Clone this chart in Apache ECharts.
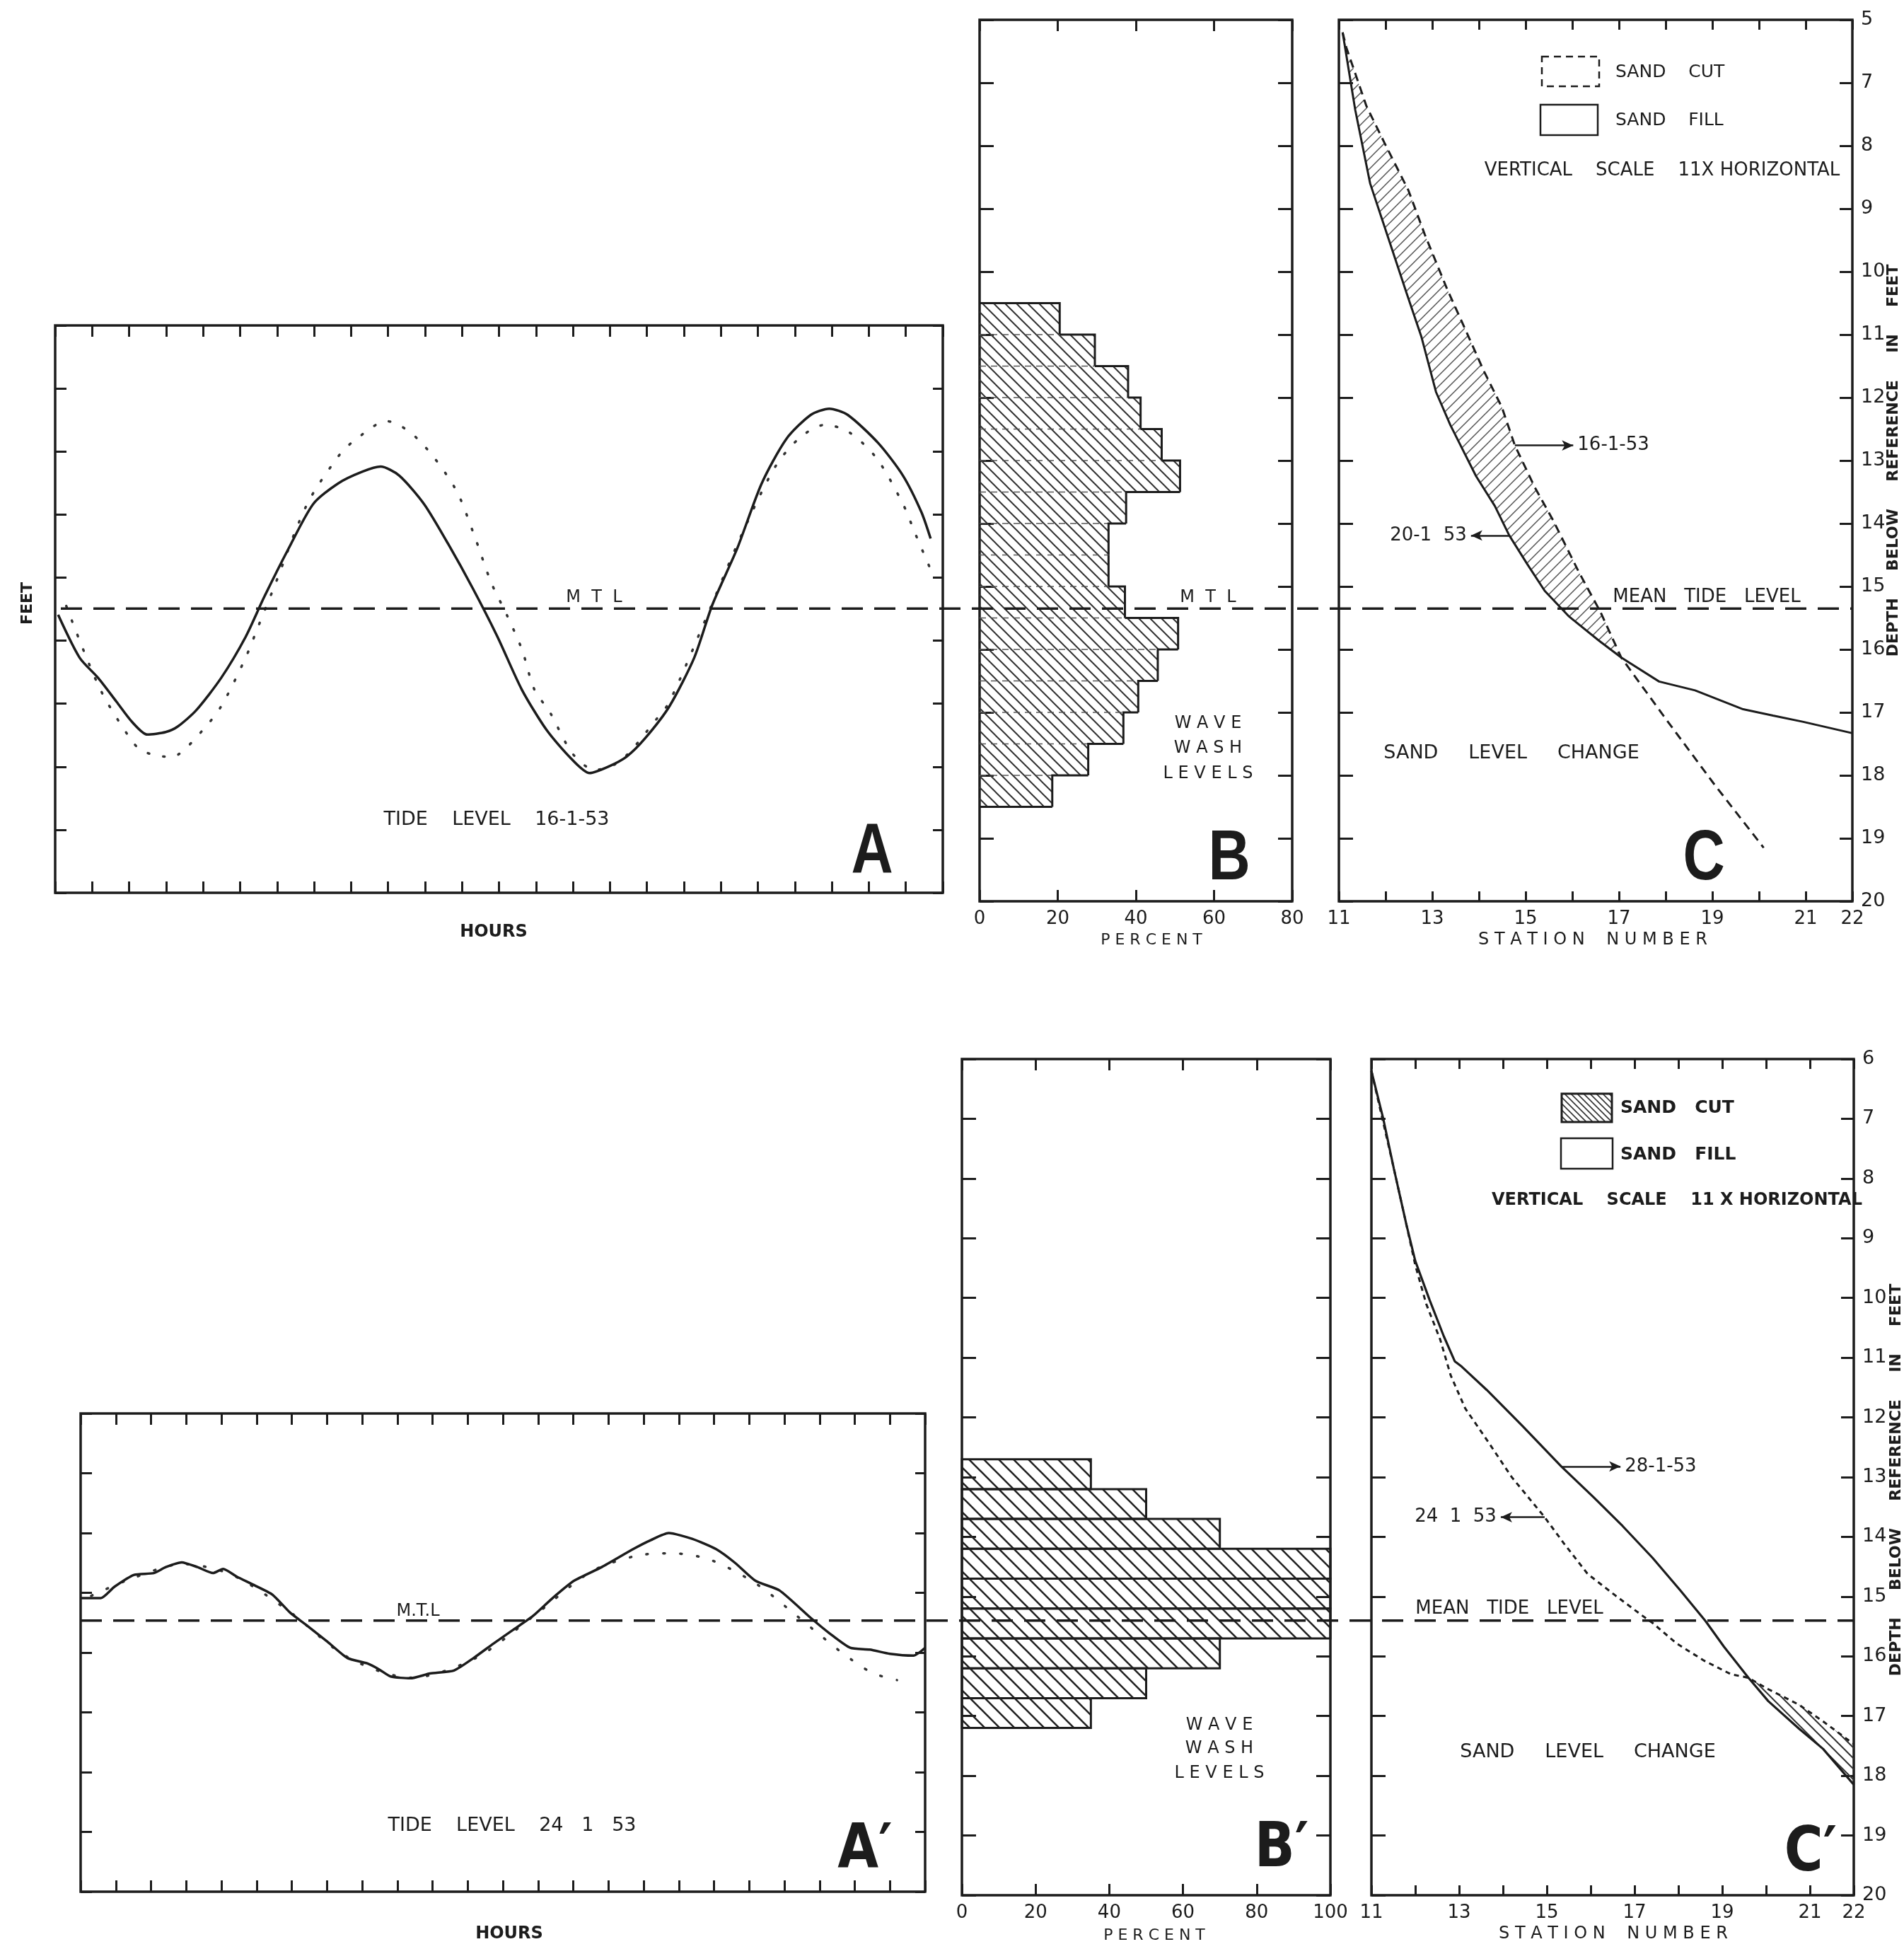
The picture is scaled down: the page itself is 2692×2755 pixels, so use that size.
<!DOCTYPE html>
<html>
<head>
<meta charset="utf-8">
<script src="https://cdn.jsdelivr.net/npm/echarts@6/dist/echarts.min.js"></script>
<style>
  html, body { margin: 0; padding: 0; background: #fff; }
  #chart { width: 2692px; height: 2755px; }
</style>
</head>
<body>
<div id="chart"></div>
<script>
// ---------- data ----------
// A / A' : tide curves, [hour, depth below reference in feet]
const tideObs16 = [[0.08,15.59],[0.66,16.27],[1.16,16.59],[1.66,16.97],[2.08,17.29],[2.49,17.49],[2.99,17.45],[3.32,17.36],[3.82,17.10],[4.49,16.59],[5.15,15.94],[5.65,15.31],[6.31,14.54],[6.98,13.83],[7.64,13.51],[8.31,13.32],[8.80,13.24],[9.30,13.38],[9.97,13.83],[10.63,14.47],[11.30,15.18],[11.96,15.94],[12.62,16.78],[13.29,17.42],[13.95,17.87],[14.45,18.10],[14.95,18.00],[15.45,17.84],[15.95,17.55],[16.61,17.04],[17.28,16.27],[17.77,15.43],[18.44,14.54],[19.10,13.51],[19.77,12.80],[20.43,12.42],[20.93,12.32],[21.43,12.42],[22.26,12.87],[22.92,13.38],[23.42,13.96],[23.67,14.38]];
const tidePred16 = [[0.3,15.45],[1.2,16.75],[1.99,17.52],[2.33,17.74],[2.99,17.84],[3.32,17.81],[3.99,17.42],[4.49,17.04],[5.15,16.27],[5.48,15.79],[5.90,15.18],[6.8,13.85],[7.64,13.09],[8.06,12.84],[8.97,12.52],[9.80,12.80],[10.80,13.57],[11.30,14.28],[11.79,15.08],[12.21,15.59],[12.62,16.14],[12.96,16.78],[13.37,17.13],[14.0,17.80],[14.6,18.05],[15.3,17.90],[16.28,17.23],[16.61,16.97],[17.61,15.63],[18.5,14.40],[19.44,13.27],[20.10,12.80],[20.8,12.58],[21.43,12.68],[22.2,13.10],[22.92,13.83],[23.26,14.31],[23.75,14.98]];
const tideObs24 = [[0.0,15.09],[0.57,15.09],[0.96,14.90],[1.52,14.70],[2.08,14.67],[2.42,14.57],[2.87,14.49],[3.32,14.57],[3.76,14.67],[4.05,14.60],[4.44,14.73],[4.89,14.86],[5.45,15.03],[5.95,15.33],[6.46,15.56],[7.02,15.82],[7.58,16.09],[8.14,16.18],[8.48,16.28],[8.81,16.40],[9.37,16.43],[9.93,16.35],[10.61,16.30],[11.17,16.09],[11.73,15.85],[12.29,15.62],[12.85,15.39],[13.41,15.09],[14.02,14.80],[14.81,14.57],[15.70,14.27],[16.20,14.12],[16.71,14.00],[17.39,14.10],[18.06,14.27],[18.6,14.50],[19.18,14.80],[19.86,14.96],[20.75,15.42],[21.31,15.69],[21.87,15.92],[22.43,15.95],[23.00,16.02],[23.67,16.05],[24.0,15.92]];
const tidePred24 = [[0.3,15.05],[1.5,14.75],[2.9,14.52],[4.3,14.70],[5.9,15.30],[7.6,16.08],[9.4,16.42],[11.2,16.10],[12.85,15.40],[14.5,14.65],[15.8,14.38],[16.8,14.34],[17.9,14.45],[19.2,14.85],[20.3,15.36],[21.0,15.70],[21.7,16.03],[22.5,16.34],[23.2,16.46]];

// B / B' : wave wash levels, bin top depth (0.5 ft bins) and percent
const washBinTop16 = [10.5,11.0,11.5,12.0,12.5,13.0,13.5,14.0,14.5,15.0,15.5,16.0,16.5,17.0,17.5,18.0];
const washPct16 = [20.5,29.5,38,41.2,46.6,51.3,37.5,33,33,37.2,50.8,45.6,40.6,36.8,27.8,18.6];
const washBinTop24 = [12.7,13.2,13.7,14.2,14.7,15.2,15.7,16.2,16.7];
const washPct24 = [35,50,70,100,100,100,70,50,35];
const binH = 0.5;

// C / C' : beach profiles, [station number, depth below reference]
const profile16 = [[11.08,6.2],[11.16,6.44],[11.59,7.37],[11.98,7.96],[12.49,8.71],[12.84,9.41],[13.32,10.28],[13.71,10.92],[14.10,11.57],[14.49,12.15],[14.77,12.76],[15.20,13.43],[15.59,13.95],[16.14,14.77],[16.6,15.40],[17.05,16.13],[18.0,17.10],[19.05,18.15],[20.1,19.15]];
const profile20 = [[11.08,6.2],[11.35,7.43],[11.67,8.60],[12.06,9.47],[12.45,10.34],[12.77,11.04],[13.08,11.91],[13.39,12.44],[13.94,13.25],[14.34,13.72],[14.65,14.19],[15.04,14.65],[15.41,15.07],[15.92,15.47],[16.57,15.86],[17.05,16.13],[17.86,16.51],[18.63,16.65],[19.66,16.95],[20.30,17.05],[20.95,17.15],[22.0,17.33]];
const profile24 = [[11.0,6.2],[11.51,7.83],[11.8,8.78],[12.0,9.45],[12.25,10.10],[12.57,10.70],[12.81,11.30],[13.14,11.85],[13.7,12.45],[14.2,13.00],[14.95,13.67],[15.4,14.12],[15.93,14.62],[16.56,14.98],[17.18,15.32],[17.41,15.44],[17.95,15.78],[18.58,16.07],[19.2,16.30],[19.6,16.36],[20.05,16.55],[20.75,16.81],[21.3,17.09],[22.0,17.47]];
const profile28 = [[11.0,6.2],[11.27,7.0],[11.51,7.83],[11.8,8.78],[12.0,9.38],[12.33,10.04],[12.65,10.64],[12.9,11.06],[13.06,11.15],[13.63,11.54],[14.44,12.14],[15.33,12.82],[16.07,13.34],[16.73,13.82],[17.41,14.35],[18.05,14.90],[18.62,15.41],[19.04,15.84],[19.6,16.36],[20.05,16.75],[20.75,17.21],[21.3,17.55],[22.0,18.15]];
const meet16 = 17.05;   // where the two top profiles join
const meet24 = 19.6;    // where the two bottom profiles cross

// arrows to profile names: [from station, to station, depth]
const arrow16 = [14.77, 16.02, 12.76];
const arrow20 = [14.65, 13.83, 14.19];
const arrow28 = [15.33, 16.68, 12.82];
const arrow24 = [14.95, 13.95, 13.67];

const mtlTop = 15.35;
const mtlBottom = 15.4;

const depthLabelsTop = ['5','7','8','9','10','11','12','13','14','15','16','17','18','19','20'];
const depthLabelsBottom = ['6','7','8','9','10','11','12','13','14','15','16','17','18','19','20'];
const stationLabels = [11,13,15,17,19,21,22];

// ---------- helpers ----------
const ink = '#1c1c1c';
const FONT = 'DejaVu Sans';

function hatch(size, lw, color, dir) {
  const c = document.createElement('canvas');
  c.width = c.height = size;
  const g = c.getContext('2d');
  g.strokeStyle = color;
  g.lineWidth = lw;
  g.beginPath();
  for (let k = -1; k <= 1; k++) {
    if (dir === 'back') {
      g.moveTo(k * size - 1, -1);
      g.lineTo(k * size + size + 1, size + 1);
    } else {
      g.moveTo(k * size - 1, size + 1);
      g.lineTo(k * size + size + 1, -1);
    }
  }
  g.stroke();
  return {image: c, repeat: 'repeat'};
}

const hatchB16 = hatch(16, 2, '#333', 'back');
const hatchB24 = hatch(21, 2.6, '#222', 'back');
const hatchC16 = hatch(15, 1.5, '#555', 'fwd');
const hatchC24 = hatch(15, 2, '#333', 'back');
const hatchKey = hatch(9, 1.6, '#333', 'back');

const tickStyle = (len) => ({show: true, inside: true, length: len, lineStyle: {color: ink, width: 3}});
const labelStyle = {color: ink, fontFamily: FONT, fontSize: 26};

function axis(gridIndex, position, min, max, interval, extra) {
  return Object.assign({
    type: 'value', gridIndex, position, min, max, interval,
    axisLine: {show: false, onZero: false},
    splitLine: {show: false},
    axisTick: tickStyle(16),
    axisLabel: {show: false}
  }, extra || {});
}

const grids = [
  {left: 78, top: 460, width: 1255, height: 802},    // A
  {left: 1385, top: 28, width: 442, height: 1246},   // B
  {left: 1893, top: 28, width: 726, height: 1246},   // C
  {left: 114, top: 1998, width: 1194, height: 676},  // A'
  {left: 1360, top: 1497, width: 521, height: 1182}, // B'
  {left: 1939, top: 1497, width: 682, height: 1182}  // C'
].map(g => Object.assign(g, {show: true, borderColor: ink, borderWidth: 3.5, backgroundColor: 'transparent'}));

const stationLabel = {show: true, margin: 12, ...labelStyle,
  showMinLabel: true, showMaxLabel: true,
  formatter: v => stationLabels.includes(Math.round(v)) ? String(Math.round(v)) : ''};

const xAxes = [
  axis(0, 'bottom', 0, 24, 1), axis(0, 'top', 0, 24, 1),
  axis(1, 'bottom', 0, 80, 20, {axisLabel: {show: true, margin: 12, ...labelStyle, showMinLabel: true, showMaxLabel: true}}),
  axis(1, 'top', 0, 80, 20),
  axis(2, 'bottom', 11, 22, 1, {axisLabel: stationLabel, axisTick: tickStyle(14)}),
  axis(2, 'top', 11, 22, 1, {axisTick: tickStyle(14)}),
  axis(3, 'bottom', 0, 24, 1), axis(3, 'top', 0, 24, 1),
  axis(4, 'bottom', 0, 100, 20, {axisLabel: {show: true, margin: 12, ...labelStyle, showMinLabel: true, showMaxLabel: true}}),
  axis(4, 'top', 0, 100, 20),
  axis(5, 'bottom', 11, 22, 1, {axisLabel: stationLabel, axisTick: tickStyle(14)}),
  axis(5, 'top', 11, 22, 1, {axisTick: tickStyle(14)})
];

const depthLabel = (labels) => ({show: true, margin: 12, ...labelStyle, fontSize: 27,
  showMinLabel: true, showMaxLabel: true, formatter: v => labels[Math.round(v - 6)]});

const yAxes = [
  axis(0, 'left', 11, 20, 1, {inverse: true}), axis(0, 'right', 11, 20, 1, {inverse: true, axisTick: tickStyle(14)}),
  axis(1, 'left', 6, 20, 1, {inverse: true, axisTick: tickStyle(20)}), axis(1, 'right', 6, 20, 1, {inverse: true, axisTick: tickStyle(20)}),
  axis(2, 'left', 6, 20, 1, {inverse: true, axisTick: tickStyle(20)}),
  axis(2, 'right', 6, 20, 1, {inverse: true, axisTick: tickStyle(18), axisLabel: depthLabel(depthLabelsTop)}),
  axis(3, 'left', 12, 20, 1, {inverse: true}), axis(3, 'right', 12, 20, 1, {inverse: true, axisTick: tickStyle(14)}),
  axis(4, 'left', 6, 20, 1, {inverse: true, axisTick: tickStyle(20)}), axis(4, 'right', 6, 20, 1, {inverse: true, axisTick: tickStyle(20)}),
  axis(5, 'left', 6, 20, 1, {inverse: true, axisTick: tickStyle(20)}),
  axis(5, 'right', 6, 20, 1, {inverse: true, axisTick: tickStyle(18), axisLabel: depthLabel(depthLabelsBottom)})
];

// wave wash bars
function washRows(tops, pcts) {
  return tops.map((d, i) => [d, pcts[i], i ? pcts[i - 1] : 0, i === tops.length - 1 ? 1 : 0]);
}

function renderWash16(params, api) {
  const d0 = api.value(0), pct = api.value(1), prev = api.value(2), last = api.value(3);
  const tl = api.coord([0, d0]);
  const br = api.coord([pct, d0 + binH]);
  const xp = api.coord([prev, d0])[0];
  const kids = [
    {type: 'rect', shape: {x: tl[0], y: tl[1], width: br[0] - tl[0], height: br[1] - tl[1]}, style: {fill: hatchB16}},
    {type: 'line', shape: {x1: tl[0], y1: tl[1], x2: br[0], y2: tl[1]}, style: {stroke: '#555', lineWidth: 1.5, lineDash: [9, 7]}},
    {type: 'polyline', shape: {points: [[xp, tl[1]], [br[0], tl[1]], [br[0], br[1]]]}, style: {stroke: ink, lineWidth: 3, fill: null}}
  ];
  if (last) kids.push({type: 'line', shape: {x1: tl[0], y1: br[1], x2: br[0], y2: br[1]}, style: {stroke: ink, lineWidth: 3}});
  return {type: 'group', children: kids};
}

function renderWash24(params, api) {
  const d0 = api.value(0), pct = api.value(1);
  const tl = api.coord([0, d0]);
  const br = api.coord([pct, d0 + binH]);
  return {type: 'rect', shape: {x: tl[0], y: tl[1], width: br[0] - tl[0], height: br[1] - tl[1]},
    style: {fill: hatchB24, stroke: ink, lineWidth: 3}};
}

function region(points, fill) {
  return function (params, api) {
    return {type: 'polygon', shape: {points: points.map(p => api.coord(p))}, style: {fill: fill, stroke: null}};
  };
}

const cutRegion16 = profile16.filter(p => p[0] <= meet16).concat(profile20.filter(p => p[0] < meet16).reverse());
const cutRegion24 = profile24.filter(p => p[0] >= meet24).concat(profile28.filter(p => p[0] >= meet24).reverse());

function arrowLine(a, name) {
  return {
    silent: true,
    symbol: ['none', 'arrow'],
    symbolSize: [11, 16],
    lineStyle: {type: 'solid', color: ink, width: 2.5},
    label: {show: true, position: 'end', distance: 6, formatter: '{b}', color: ink, fontFamily: FONT, fontSize: 26},
    data: [[{name: name, coord: [a[0], a[2]]}, {coord: [a[1], a[2]]}]]
  };
}

const lineBase = {type: 'line', showSymbol: false, silent: true, animation: false};

const series = [
  // A
  {...lineBase, xAxisIndex: 0, yAxisIndex: 0, data: tidePred16, smooth: 0.3,
    lineStyle: {color: '#333', width: 3.5, type: [2, 20], cap: 'round'}},
  {...lineBase, xAxisIndex: 0, yAxisIndex: 0, data: tideObs16, smooth: 0.25,
    lineStyle: {color: ink, width: 3.5}},
  // B
  {type: 'custom', xAxisIndex: 2, yAxisIndex: 2, silent: true, animation: false,
    data: washRows(washBinTop16, washPct16), encode: {x: 1, y: 0}, renderItem: renderWash16},
  // C
  {type: 'custom', xAxisIndex: 4, yAxisIndex: 4, silent: true, animation: false,
    data: [cutRegion16[0]], encode: {x: 0, y: 1}, renderItem: region(cutRegion16, hatchC16)},
  {...lineBase, xAxisIndex: 4, yAxisIndex: 4, data: profile16,
    lineStyle: {color: ink, width: 3, type: [12, 8]}, markLine: arrowLine(arrow16, '16-1-53')},
  {...lineBase, xAxisIndex: 4, yAxisIndex: 4, data: profile20,
    lineStyle: {color: ink, width: 3}, markLine: arrowLine(arrow20, '20-1  53')},
  // A'
  {...lineBase, xAxisIndex: 6, yAxisIndex: 6, data: tidePred24, smooth: 0.3,
    lineStyle: {color: '#333', width: 3.5, type: [2, 22], cap: 'round'}},
  {...lineBase, xAxisIndex: 6, yAxisIndex: 6, data: tideObs24, smooth: 0.2,
    lineStyle: {color: ink, width: 3.5}},
  // B'
  {type: 'custom', xAxisIndex: 8, yAxisIndex: 8, silent: true, animation: false,
    data: washRows(washBinTop24, washPct24), encode: {x: 1, y: 0}, renderItem: renderWash24},
  // C'
  {type: 'custom', xAxisIndex: 10, yAxisIndex: 10, silent: true, animation: false,
    data: [cutRegion24[0]], encode: {x: 0, y: 1}, renderItem: region(cutRegion24, hatchC24)},
  {...lineBase, xAxisIndex: 10, yAxisIndex: 10, data: profile24,
    lineStyle: {color: ink, width: 3, type: [7, 6]}, markLine: arrowLine(arrow24, '24  1  53')},
  {...lineBase, xAxisIndex: 10, yAxisIndex: 10, data: profile28,
    lineStyle: {color: ink, width: 3.2}, markLine: arrowLine(arrow28, '28-1-53')}
];

const chart = echarts.init(document.getElementById('chart'));
chart.setOption({
  animation: false,
  backgroundColor: '#fff',
  grid: grids,
  xAxis: xAxes,
  yAxis: yAxes,
  series: series
});

// ---------- text and mean tide level lines ----------
function txt(text, x, y, o) {
  o = o || {};
  return {type: 'text', x: x, y: y, rotation: o.rot || 0, scaleX: o.sx || 1, z: 50, silent: true,
    style: {text: text, fill: ink, fontFamily: o.family || FONT, fontSize: o.size || 24,
      fontWeight: o.weight || 'normal', align: o.align || 'center', verticalAlign: 'middle'}};
}

const yT = chart.convertToPixel({yAxisIndex: 4}, mtlTop);
const xT0 = chart.convertToPixel({xAxisIndex: 0}, 0);
const xT1 = chart.convertToPixel({xAxisIndex: 4}, 22);
const yB = chart.convertToPixel({yAxisIndex: 10}, mtlBottom);
const xB0 = chart.convertToPixel({xAxisIndex: 6}, 0);
const xB1 = chart.convertToPixel({xAxisIndex: 10}, 22);

const mtlStyle = {stroke: ink, lineWidth: 3.5, lineDash: [30, 16]};
const big = {size: 100, weight: 'bold', family: 'Liberation Sans', sx: 0.82};
const bigP = {size: 88, weight: 'bold', family: 'DejaVu Sans', sx: 0.85};

chart.setOption({
  graphic: [
    {type: 'line', z: 40, silent: true, shape: {x1: xT0 + 8, y1: yT, x2: xT1, y2: yT}, style: mtlStyle},
    {type: 'line', z: 40, silent: true, shape: {x1: xB0, y1: yB, x2: xB1, y2: yB}, style: mtlStyle},

    // top row
    txt('FEET', 39, 853, {rot: Math.PI / 2, size: 22, weight: 'bold'}),
    txt('M  T  L', 840, yT - 15, {size: 24}),
    txt('TIDE    LEVEL    16-1-53', 702, 1159, {size: 27}),
    txt('A', 1233, 1206, big),
    txt('HOURS', 698, 1318, {size: 24, weight: 'bold'}),
    txt('M  T  L', 1708, yT - 15, {size: 24}),
    txt('W A V E', 1708, 1023, {size: 24}),
    txt('W A S H', 1708, 1058, {size: 24}),
    txt('L E V E L S', 1708, 1094, {size: 24}),
    txt('B', 1738, 1215, big),
    txt('P E R C E N T', 1628, 1329, {size: 22}),
    {type: 'rect', z: 45, silent: true, shape: {x: 2180, y: 80, width: 81, height: 42},
      style: {fill: 'none', stroke: ink, lineWidth: 2.5, lineDash: [10, 7]}},
    txt('SAND    CUT', 2284, 102, {size: 25, align: 'left'}),
    {type: 'rect', z: 45, silent: true, shape: {x: 2178, y: 148, width: 81, height: 43},
      style: {fill: 'none', stroke: ink, lineWidth: 2.5}},
    txt('SAND    FILL', 2284, 170, {size: 25, align: 'left'}),
    txt('VERTICAL    SCALE    11X HORIZONTAL', 2350, 241, {size: 26}),
    txt('MEAN   TIDE   LEVEL', 2413, yT - 16, {size: 26}),
    txt('SAND     LEVEL     CHANGE', 2137, 1065, {size: 27}),
    txt('C', 2409, 1215, big),
    txt('S T A T I O N    N U M B E R', 2252, 1329, {size: 24}),
    txt('DEPTH     BELOW     REFERENCE     IN     FEET', 2677, 651, {rot: Math.PI / 2, size: 22, weight: 'bold'}),

    // bottom row
    txt('M.T.L', 591, yB - 13, {size: 24}),
    txt('TIDE    LEVEL    24   1   53', 724, 2581, {size: 27}),
    txt('A\u2032', 1223, 2617, bigP),
    txt('HOURS', 720, 2734, {size: 24, weight: 'bold'}),
    txt('W A V E', 1724, 2439, {size: 24}),
    txt('W A S H', 1724, 2472, {size: 24}),
    txt('L E V E L S', 1724, 2507, {size: 24}),
    txt('B\u2032', 1812, 2615, bigP),
    txt('P E R C E N T', 1632, 2736, {size: 22}),
    {type: 'rect', z: 45, silent: true, shape: {x: 2208, y: 1546, width: 71, height: 40},
      style: {fill: hatchKey, stroke: ink, lineWidth: 3}},
    txt('SAND   CUT', 2291, 1566, {size: 25, weight: 'bold', align: 'left'}),
    {type: 'rect', z: 45, silent: true, shape: {x: 2207, y: 1609, width: 73, height: 43},
      style: {fill: 'none', stroke: ink, lineWidth: 2.5}},
    txt('SAND   FILL', 2291, 1632, {size: 25, weight: 'bold', align: 'left'}),
    txt('VERTICAL    SCALE    11 X HORIZONTAL', 2371, 1697, {size: 24, weight: 'bold'}),
    txt('MEAN   TIDE   LEVEL', 2134, yB - 16, {size: 26}),
    txt('SAND     LEVEL     CHANGE', 2245, 2477, {size: 27}),
    txt('C\u2032', 2560, 2621, bigP),
    txt('S T A T I O N    N U M B E R', 2281, 2734, {size: 24}),
    txt('DEPTH     BELOW     REFERENCE     IN     FEET', 2681, 2092, {rot: Math.PI / 2, size: 22, weight: 'bold'})
  ]
});
</script>
</body>
</html>
